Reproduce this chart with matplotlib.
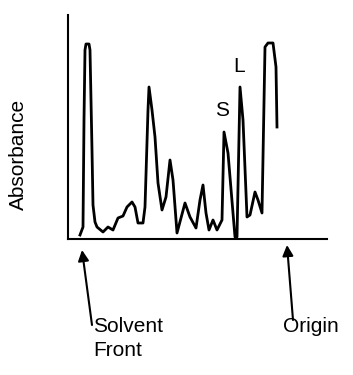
import matplotlib
matplotlib.use("Agg")
import matplotlib.pyplot as plt

plt.rcParams['font.family'] = ['Liberation Sans', 'DejaVu Sans']

# Densitometer trace: distance along plate (arbitrary units) vs absorbance
distance = [12, 15, 16, 17, 18, 21, 22, 24, 25, 27,
            29, 35, 40, 45, 50, 55, 59, 64, 67, 70,
            75, 77, 80, 81, 84, 87, 90, 94, 98, 102,
            105, 109, 117, 122, 128, 132, 135, 138, 141, 145,
            149, 154, 156, 160, 167, 169, 172, 175, 179, 182,
            187, 190, 194, 197, 200, 205, 208, 209]
absorbance = [4, 12, 119, 189, 195, 195, 189, 89, 34, 17,
              12, 7, 12, 9, 21, 23, 32, 37, 32, 16,
              16, 32, 129, 152, 129, 102, 56, 29, 42, 79,
              59, 6, 36, 22, 11, 39, 54, 26, 9, 19,
              9, 19, 107, 86, 2, 2, 152, 119, 22, 24,
              47, 39, 26, 192, 196, 196, 172, 112]

peak_labels = ["S", "L"]
peak_x = [154, 171]
peak_y = [129, 172]

W, H = 353, 375
fig = plt.figure(figsize=(W / 100, H / 100), dpi=100)
ax = fig.add_axes([68 / W, (H - 239) / H, 259 / W, 224 / H])
ax.plot(distance, absorbance, color='black', lw=2.0, solid_joinstyle='round')
ax.set_xlim(0, 259)
ax.set_ylim(0, 224)
for s in ['top', 'right']:
    ax.spines[s].set_visible(False)
for s in ['left', 'bottom']:
    ax.spines[s].set_linewidth(1.5)
ax.set_xticks([])
ax.set_yticks([])

for lab, x, y in zip(peak_labels, peak_x, peak_y):
    ax.text(x, y, lab, fontsize=15, ha='center', va='center')

fig.text(18 / W, 1 - 154 / H, "Absorbance", rotation=90, fontsize=15,
         ha='center', va='center')

arrow = dict(arrowstyle='-|>', lw=1.5, color='black', mutation_scale=16,
             shrinkA=0, shrinkB=0)
ax.annotate('', xy=(82, H - 250), xycoords='figure pixels',
            xytext=(92, H - 325), textcoords='figure pixels', arrowprops=arrow)
ax.annotate('', xy=(287, H - 245), xycoords='figure pixels',
            xytext=(293, H - 320), textcoords='figure pixels', arrowprops=arrow)

fig.text(93 / W, 1 - 327 / H, "Solvent", fontsize=15, ha='left', va='center')
fig.text(93 / W, 1 - 351 / H, "Front", fontsize=15, ha='left', va='center')
fig.text(283 / W, 1 - 327 / H, "Origin", fontsize=15, ha='left', va='center')

fig.savefig("out.png", dpi=100)
